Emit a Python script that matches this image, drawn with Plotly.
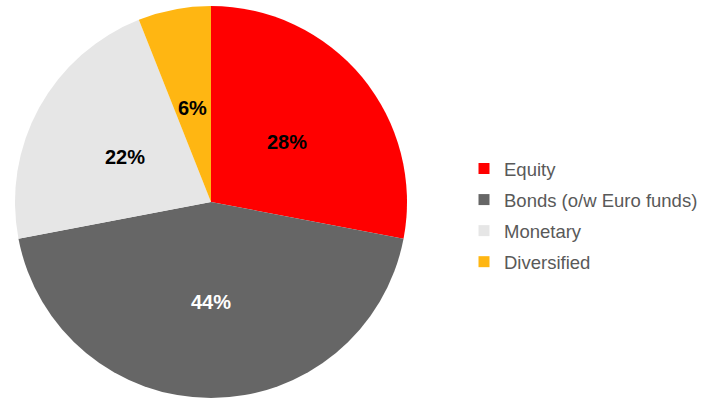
import math
import plotly.graph_objects as go

categorias = ["Equity", "Bonds (o/w Euro funds)", "Monetary", "Diversified"]
valores = [28, 44, 22, 6]
cores = ["#FF0000", "#666666", "#E6E6E6", "#FFB612"]
cores_texto = ["#000000", "#FFFFFF", "#000000", "#000000"]

# geometria da pizza (coordenadas do papel)
dom_x = [15 / 706, 407 / 706]
dom_y = [0.005, 0.985]
cx = sum(dom_x) / 2
cy = sum(dom_y) / 2
raio_px = 196

fig = go.Figure()

fig.add_trace(
    go.Pie(
        labels=categorias,
        values=valores,
        sort=False,
        direction="clockwise",
        rotation=0,
        marker=dict(colors=cores, line=dict(width=0)),
        textinfo="none",
        domain=dict(x=dom_x, y=dom_y),
        hoverinfo="label+percent",
        showlegend=False,
    )
)

# rótulos de porcentagem no meio do raio de cada fatia
total = sum(valores)
acumulado = 0
for v, cor in zip(valores, cores_texto):
    meio = (acumulado + v / 2) / total * 2 * math.pi
    acumulado += v
    fig.add_annotation(
        x=cx + 0.5 * raio_px * math.sin(meio) / 706,
        y=cy + 0.5 * raio_px * math.cos(meio) / 400,
        xref="paper",
        yref="paper",
        xanchor="center",
        yanchor="middle",
        yshift=-2,
        text=f"<b>{round(v / total * 100)}%</b>",
        showarrow=False,
        font=dict(family="Liberation Sans, Arial", size=20, color=cor),
    )

# legenda com quadrados
for i, (nome, cor) in enumerate(zip(categorias, cores)):
    fig.add_trace(
        go.Scatter(
            x=[None],
            y=[None],
            mode="markers",
            name=nome,
            legendgroup=f"g{i}",
            marker=dict(symbol="square", size=11, color=cor),
        )
    )

fig.update_layout(
    width=706,
    height=400,
    margin=dict(l=0, r=0, t=0, b=0),
    paper_bgcolor="white",
    plot_bgcolor="white",
    xaxis=dict(visible=False),
    yaxis=dict(visible=False),
    legend=dict(
        x=464 / 706,
        y=1 - 215.5 / 400,
        xanchor="left",
        yanchor="middle",
        tracegroupgap=4,
        font=dict(family="Liberation Sans, Arial", size=18.5, color="#595959"),
    ),
)

fig.write_html(
    "out.html",
    config={"displayModeBar": False},
    post_script="document.body.style.margin='0px';",
)
